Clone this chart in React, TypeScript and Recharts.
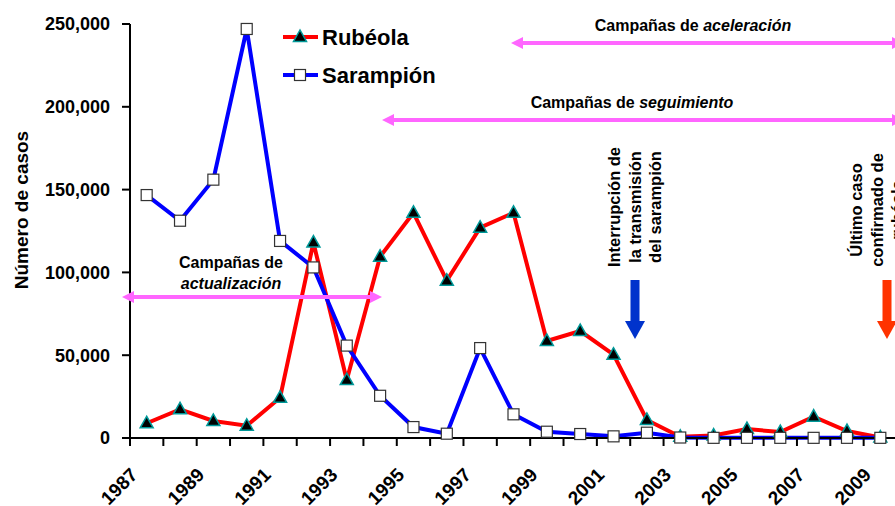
import { ComposedChart, Line, XAxis, YAxis, Legend } from 'recharts'

const years = ['1987', '1988', '1989', '1990', '1991', '1992', '1993', '1994', '1995', '1996', '1997', '1998',
  '1999', '2000', '2001', '2002', '2003', '2004', '2005', '2006', '2007', '2008', '2009']
const rubeola = [8900, 17300, 10300, 7400, 24300, 118000, 35000, 109500, 136000, 95000, 127000, 136000,
  58600, 64600, 50300, 10900, 700, 1500, 5400, 3600, 12900, 4200, 300]
const sarampion = [146700, 131200, 156000, 247000, 119000, 103000, 55800, 25500, 6600, 2600, 54300, 14300,
  3800, 2400, 1000, 3200, 300, 100, 100, 100, 100, 100, 100]
const yTicks = [0, 50000, 100000, 150000, 200000, 250000]

const data = years.map((year, i) => ({ year, rubeola: rubeola[i], sarampion: sarampion[i] }))

const FONT = '"Liberation Sans", Arial, sans-serif'
const PINK = '#FF66FF'

const W = 910
const H = 506
const M = { top: 24, right: 13, bottom: 0, left: 0 }
const Y_AXIS_W = 130
const BAND = (W - M.left - M.right - Y_AXIS_W) / years.length

function Triangle({ cx, cy }: any) {
  if (cx == null || cy == null) return null
  return <polygon points={`${cx},${cy - 7} ${cx - 6.5},${cy + 4.5} ${cx + 6.5},${cy + 4.5}`} fill="#000" stroke="#009999" strokeWidth={1.5} />
}

function Square({ cx, cy }: any) {
  if (cx == null || cy == null) return null
  return <rect x={cx - 5.5} y={cy - 5.5} width={11} height={11} fill="#fff" stroke="#333" strokeWidth={1.2} />
}

// tick marks go on the category boundaries, labels on every other year
function YearTick({ x, y, payload, index }: any) {
  const edge = x - BAND / 2
  const tx = x - 8
  const ty = y + 38
  return (
    <g>
      <line x1={edge} x2={edge} y1={y} y2={y + 8} stroke="#000" strokeWidth={2} />
      {index === years.length - 1 && <line x1={edge + BAND} x2={edge + BAND} y1={y} y2={y + 8} stroke="#000" strokeWidth={2} />}
      {index % 2 === 0 && (
        <text x={tx} y={ty} transform={`rotate(-45, ${tx}, ${ty})`} textAnchor="end"
          fontFamily={FONT} fontSize={19} fontWeight="bold" fill="#000">{payload.value}</text>
      )}
    </g>
  )
}

function LegendBox() {
  const rows = [
    { name: 'Rubéola', color: '#FF0000', Mark: Triangle },
    { name: 'Sarampión', color: '#0000FF', Mark: Square },
  ]
  return (
    <svg width={170} height={70}>
      {rows.map((r, i) => (
        <g key={r.name}>
          <line x1={0} x2={35} y1={15 + i * 38} y2={15 + i * 38} stroke={r.color} strokeWidth={4} />
          <r.Mark cx={17} cy={15 + i * 38} />
          <text x={39} y={23 + i * 38} fontFamily={FONT} fontSize={22} fontWeight="bold" fill="#000">{r.name}</text>
        </g>
      ))}
    </svg>
  )
}

function DoubleArrow({ x1, x2, y }: { x1: number; x2: number; y: number }) {
  const h = 12
  const w = 6
  return (
    <g fill={PINK}>
      <rect x={x1 + h - 1} y={y - 2} width={x2 - x1 - 2 * h + 2} height={4} />
      <polygon points={`${x1},${y} ${x1 + h},${y - w} ${x1 + h},${y + w}`} />
      <polygon points={`${x2},${y} ${x2 - h},${y - w} ${x2 - h},${y + w}`} />
    </g>
  )
}

function DownArrow({ x, color }: { x: number; color: string }) {
  return (
    <g fill={color}>
      <rect x={x - 4.5} y={280} width={9} height={42} />
      <polygon points={`${x - 10},${321} ${x + 10},${321} ${x},${339}`} />
    </g>
  )
}

function VText({ x, lines, cy }: { x: number; lines: string[]; cy: number }) {
  return (
    <g fontFamily={FONT} fontSize={16.5} fontWeight="bold" fill="#000">
      {lines.map((l, i) => (
        <text key={l} x={x + i * 20.5} y={cy} transform={`rotate(-90, ${x + i * 20.5}, ${cy})`} textAnchor="middle">{l}</text>
      ))}
    </g>
  )
}

export default function App() {
  return (
    <div style={{ position: 'absolute', left: 0, top: 0, width: 895, height: 506, overflow: 'hidden', background: '#fff' }}>
      <ComposedChart width={W} height={H} data={data} margin={M}>
        <XAxis xAxisId="cat" dataKey="year" scale="band" height={68} interval={0}
          axisLine={{ stroke: '#000', strokeWidth: 2 }} tickLine={false} tickSize={0} tickMargin={0} tick={<YearTick />} />
        <YAxis domain={[0, 250000]} ticks={yTicks} width={Y_AXIS_W} tickSize={8} tickMargin={12}
          tickFormatter={(v: number) => v.toLocaleString('en-US')}
          tick={{ fontFamily: FONT, fontSize: 18, fontWeight: 'bold', fill: '#000' }}
          axisLine={{ stroke: '#000', strokeWidth: 2 }} tickLine={{ stroke: '#000', strokeWidth: 2 }} />
        <Legend layout="vertical" align="center" verticalAlign="middle" content={() => <LegendBox />}
          wrapperStyle={{ position: 'absolute', left: 283, top: 22, width: 170, height: 70 }} />
        <Line xAxisId="cat" type="linear" dataKey="rubeola" name="Rubéola" stroke="#FF0000" strokeWidth={4}
          dot={<Triangle />} activeDot={false} isAnimationActive={false} />
        <Line xAxisId="cat" type="linear" dataKey="sarampion" name="Sarampión" stroke="#0000FF" strokeWidth={4}
          dot={<Square />} activeDot={false} isAnimationActive={false} />
      </ComposedChart>
      <svg width={895} height={506} style={{ position: 'absolute', left: 0, top: 0, pointerEvents: 'none' }}>
        <text x={28} y={210} transform="rotate(-90, 28, 210)" textAnchor="middle" fontFamily={FONT} fontSize={19} fontWeight="bold" fill="#000">
          Número de casos
        </text>
        <g fontFamily={FONT} fontSize={16} fontWeight="bold" fill="#000" textAnchor="middle">
          <text x={693} y={31}>Campañas de <tspan fontStyle="italic">aceleración</tspan></text>
          <text x={632} y={108}>Campañas de <tspan fontStyle="italic">seguimiento</tspan></text>
          <text x={231} y={268}>Campañas de</text>
          <text x={231} y={289} fontStyle="italic">actualización</text>
        </g>
        <DoubleArrow x1={511} x2={904} y={43} />
        <DoubleArrow x1={382} x2={904} y={120} />
        <DoubleArrow x1={122} x2={382} y={297} />
        <VText x={620} lines={['Interrupción de', 'la transmisión', 'del sarampión']} cy={207} />
        <VText x={862} lines={['Último caso', 'confirmado de', 'rubéola']} cy={210} />
        <DownArrow x={635} color="#0033CC" />
        <DownArrow x={887} color="#FF3300" />
      </svg>
    </div>
  )
}
